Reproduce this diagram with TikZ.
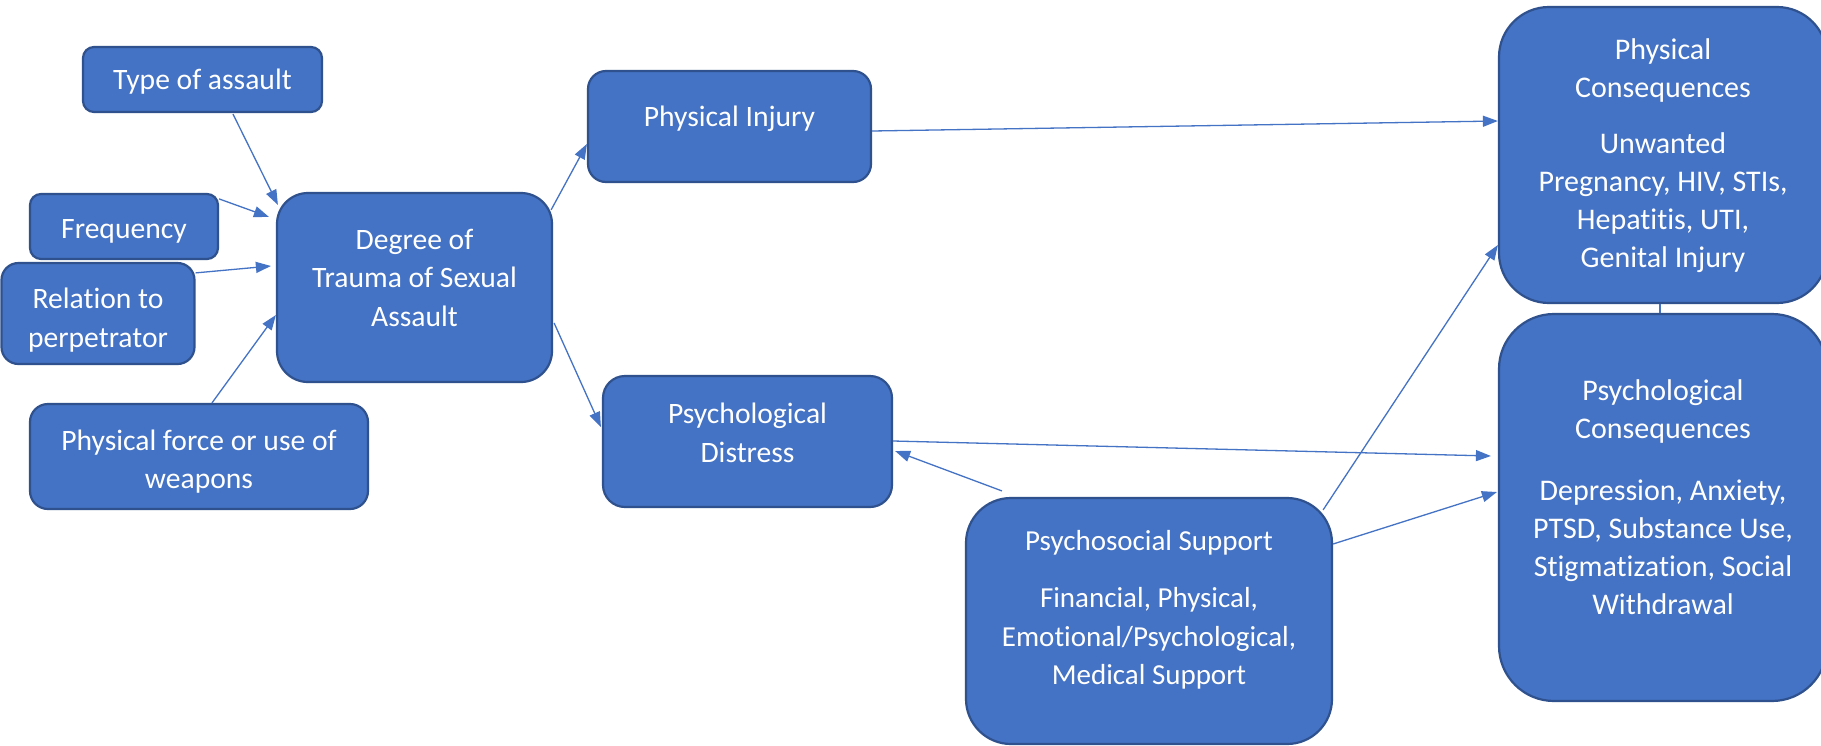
\documentclass[tikz,border=0pt]{standalone}
\usepackage{fontspec}
\setmainfont[Ligatures={NoCommon}]{Carlito}
\usetikzlibrary{arrows.meta,calc}
\definecolor{boxfill}{HTML}{4472C4}
\definecolor{boxline}{HTML}{2F528F}
\definecolor{linkcol}{HTML}{4472C4}
% centred lines of text, lifted inside the box without changing its size
\newcommand\boxtext[2][0pt]{\raisebox{#1}[\height][\depth]{\begin{tabular}{@{}c@{}}#2\end{tabular}}}
\tikzset{
  box/.style={draw=boxline, fill=boxfill, line width=2.2pt, text=white,
    rectangle, inner sep=0pt, font=\fontsize{29.6}{38.5}\selectfont},
  bigtext/.style={font=\fontsize{30}{38}\selectfont},
  smalltext/.style={font=\fontsize{29}{38.5}\selectfont},
  link/.style={draw=linkcol, line width=1.3pt,
    -{Triangle[length=15pt,width=11pt]}},
  plainlink/.style={draw=linkcol, line width=1.3pt},
}
\begin{document}
\begin{tikzpicture}[x=1pt,y=-1pt]
\fill[white] (0,0) rectangle (1821,745);
\clip (0,0) rectangle (1821,745);

% left-hand factors
\node[box, rounded corners=11pt, minimum width=239pt, minimum height=65pt]
  (type) at (202.5,79.5) {\boxtext[-2.3pt]{Type of assault}};
\node[box, rounded corners=11pt, minimum width=188pt, minimum height=65pt]
  (freq) at (124,226.5) {\boxtext[-4.3pt]{Frequency}};
\node[box, rounded corners=17pt, minimum width=193pt, minimum height=101pt]
  (rel) at (98,313.5) {\boxtext[-6.8pt]{Relation to\\perpetrator}};
\node[box, rounded corners=18pt, minimum width=338pt, minimum height=105pt]
  (force) at (199,456.5) {\boxtext[-5.4pt]{Physical force or use of\\weapons}};

% central node
\node[box, rounded corners=31pt, minimum width=275pt, minimum height=189pt]
  (degree) at (414.5,287.5) {\boxtext[7.7pt]{Degree of\\Trauma of Sexual\\Assault}};

% immediate outcomes
\node[box, rounded corners=18pt, minimum width=283pt, minimum height=111pt]
  (injury) at (729.5,126.5) {\boxtext[7.8pt]{Physical Injury}};
\node[box, rounded corners=22pt, minimum width=289pt, minimum height=131pt]
  (distress) at (747.5,441.5) {\boxtext[6pt]{Psychological\\Distress}};

% support
\node[box, smalltext, rounded corners=45pt, minimum width=366pt, minimum height=246pt]
  (support) at (1149,621) {\boxtext[11pt]{Psychosocial Support\\[19pt]Financial, Physical,\\Emotional/Psychological,\\Medical Support}};

% consequences
\node[box, bigtext, rounded corners=50pt, minimum width=328pt, minimum height=296pt]
  (physcons) at (1663,155) {\boxtext[-1pt]{Physical\\Consequences\\[18pt]Unwanted\\Pregnancy, HIV, STIs,\\Hepatitis, UTI,\\Genital Injury}};
\node[box, bigtext, rounded corners=55pt, minimum width=328pt, minimum height=387pt]
  (psycons) at (1663,507.5) {\boxtext[8pt]{Psychological\\Consequences\\[24pt]Depression, Anxiety,\\PTSD, Substance Use,\\Stigmatization, Social\\Withdrawal}};

% connectors into the central node
\draw[link] ($(type.south)+(30.5,1)$) -- ($(degree.north west)+(2,13)$);
\draw[link] ($(freq.north east)+(0,6)$) -- ($(degree.north west)+(-7,25)$);
\draw[link] ($(rel.north east)+(0,11)$) -- ($(degree.west)+(-5,-21.5)$);
\draw[link] ($(force.north)+(13,0)$) -- ($(degree.west)+(0,27.5)$);

% connectors out of the central node
\draw[link] ($(degree.north east)+(-2,18)$) -- ($(injury.west)+(0,17.5)$);
\draw[link] ($(degree.east)+(1,35.5)$) -- ($(distress.west)+(-1,-14.5)$);

% connectors to the consequences
\draw[link] ($(injury.east)+(0,4.5)$) -- ($(physcons.west)+(0,-34)$);
\draw[link] ($(distress.east)+(0,-0.5)$) -- ($(psycons.west)+(-7,-51.5)$);
\draw[link] ($(support.north west)+(37,-6)$) -- ($(distress.east)+(2,9.5)$);
\draw[link] ($(support.north east)+(-10,13)$) -- ($(physcons.west)+(0,90)$);
\draw[link] ($(support.east)+(0,-77)$) -- ($(psycons.west)+(-1,-15.5)$);
\draw[plainlink] ($(physcons.south)+(-3,0)$) -- ($(psycons.north)+(-3,0)$);
\end{tikzpicture}
\end{document}
